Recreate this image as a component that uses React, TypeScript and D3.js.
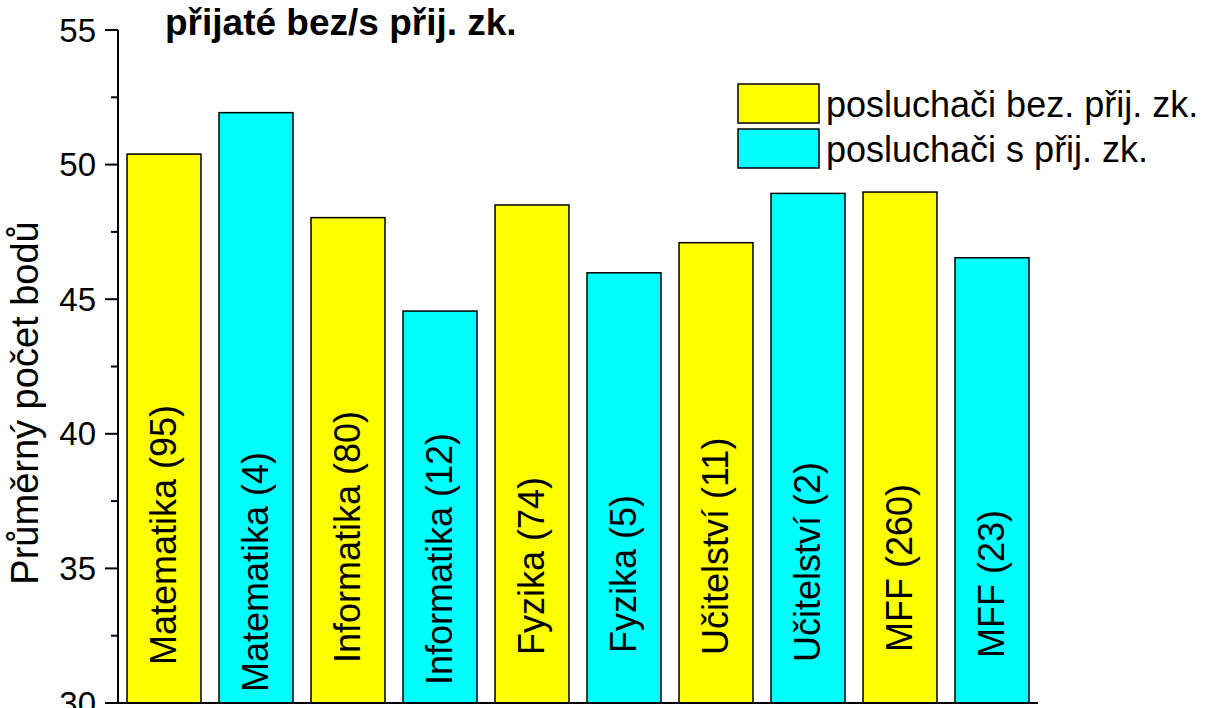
import React from "react"
import * as d3 from "d3"

// average points per group
const categories = ["Matematika (95)", "Matematika (4)", "Informatika (80)", "Informatika (12)", "Fyzika (74)", "Fyzika (5)", "Učitelství (11)", "Učitelství (2)", "MFF (260)", "MFF (23)"]
const values = [50.39, 51.93, 48.03, 44.56, 48.5, 45.98, 47.1, 48.93, 48.98, 46.54]
const series = [0, 1, 0, 1, 0, 1, 0, 1, 0, 1]
const seriesNames = ["posluchači bez. přij. zk.", "posluchači s přij. zk."]
const yTicks = [30, 35, 40, 45, 50, 55]
const yMinorTicks = [32.5, 37.5, 42.5, 47.5, 52.5]

const colors = ["#ffff00", "#00ffff"]
// how far above the x axis each bar label starts (px)
const labelLift = [38, 11, 40, 18, 48, 50, 48, 41, 51, 45]

const width = 1206
const height = 708
const margin = {top: 30, right: 168, bottom: 5, left: 118}
const font = "'Liberation Sans', Arial, sans-serif"

export default function App() {
    const x = d3.scaleBand()
        .domain(categories)
        .range([margin.left, width - margin.right])
        .paddingInner(0.196)
        .paddingOuter(0.098)

    const y = d3.scaleLinear()
        .domain([30, 55])
        .range([height - margin.bottom, margin.top])

    const y0 = y(30)

    const bars = categories.map((c, i) => (
        <rect
            key={c}
            x={x(c)}
            y={y(values[i])}
            width={x.bandwidth()}
            height={y0 - y(values[i])}
            fill={colors[series[i]]}
            stroke="#000"
            strokeWidth={1.5}
        />
    ))

    const labels = categories.map((c, i) => {
        var x_pos = x(c) + x.bandwidth() / 2 + 12
        var y_pos = y0 - labelLift[i]
        return (
            <text
                key={c}
                x={x_pos}
                y={y_pos}
                fontSize={36}
                transform={"rotate(-90," + x_pos + "," + y_pos + ")"}
            >
                {c}
            </text>
        )
    })

    return (
        <svg width={width} height={height} style={{position: "absolute", left: 0, top: 0}} fontFamily={font}>
            <rect width={width} height={height} fill="#fff" />
            {bars}
            {labels}

            {/* axes */}
            <line x1={margin.left} x2={margin.left} y1={y(55)} y2={y0} stroke="#000" strokeWidth={2} />
            <line x1={margin.left} x2={width - margin.right} y1={y0} y2={y0} stroke="#000" strokeWidth={2} />
            {yTicks.map(t => (
                <g key={t}>
                    <line x1={margin.left - 13} x2={margin.left} y1={y(t)} y2={y(t)} stroke="#000" strokeWidth={2} />
                    <text x={margin.left - 22} y={y(t)} textAnchor="end" dominantBaseline="central" fontSize={33}>{t}</text>
                </g>
            ))}
            {yMinorTicks.map(t => (
                <line key={t} x1={margin.left - 7} x2={margin.left} y1={y(t)} y2={y(t)} stroke="#000" strokeWidth={2} />
            ))}

            <text
                x={38}
                y={403}
                fontSize={38}
                textAnchor="middle"
                transform="rotate(-90,38,403)"
            >
                Průměrný počet bodů
            </text>

            <text x={165} y={35} fontSize={37} fontWeight="bold">přijaté bez/s přij. zk.</text>

            {/* legend */}
            {seriesNames.map((s, i) => (
                <g key={s} transform={"translate(738," + (84 + i * 45) + ")"}>
                    <rect width={81} height={39} fill={colors[i]} stroke="#000" strokeWidth={1.5} />
                    <text x={88} y={20} dominantBaseline="central" fontSize={36}>{s}</text>
                </g>
            ))}
        </svg>
    )
}
